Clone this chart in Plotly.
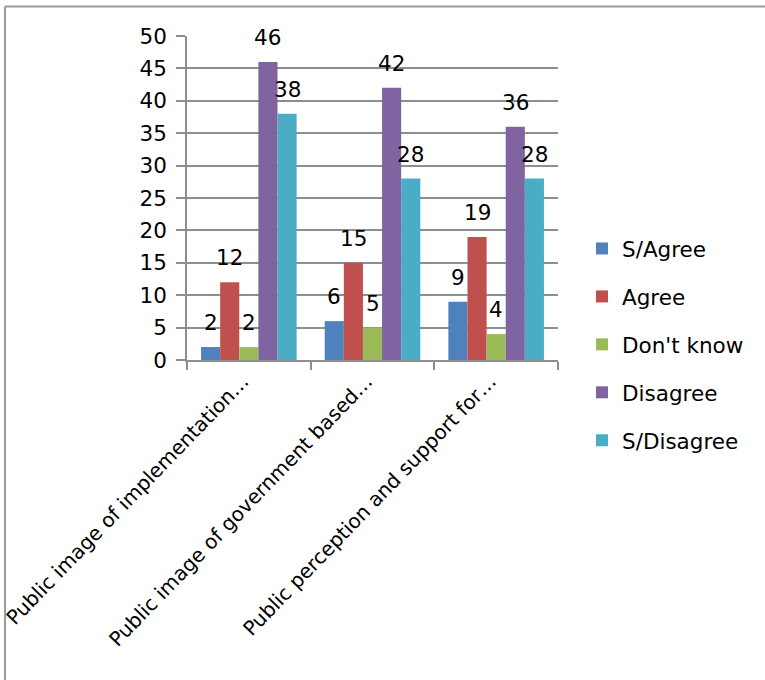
import plotly.graph_objects as go

categories = ["Public image of implementation\u2026",
              "Public image of government based\u2026",
              "Public perception and support for\u2026"]
series_names = ["S/Agree", "Agree", "Don't know", "Disagree", "S/Disagree"]
s_agree = [2, 6, 9]
agree = [12, 15, 19]
dont_know = [2, 5, 4]
disagree = [46, 42, 36]
s_disagree = [38, 28, 28]
y_ticks = list(range(0, 51, 5))

series_values = [s_agree, agree, dont_know, disagree, s_disagree]
colors = ["#4F81BD", "#C0504D", "#9BBB59", "#8064A2", "#4BACC6"]

FONT = "DejaVu Sans"
FS = 21.5
BARGAP = 0.227
GRID = "#8E8E8E"

fig = go.Figure()
for i, (name, vals) in enumerate(zip(series_names, series_values)):
    fig.add_trace(go.Bar(
        x=categories, y=vals, name=name, marker_color=colors[i],
        marker_line_width=0, legendgroup=name,
    ))

# data labels above bars
n = len(series_names)
w = (1 - BARGAP) / n
annotations = []
for i, vals in enumerate(series_values):
    for c, v in enumerate(vals):
        xc = c - (1 - BARGAP) / 2 + w * (i + 0.5)
        annotations.append(dict(
            x=xc, y=v, xref="x", yref="y", text=str(v), showarrow=False,
            yanchor="bottom", xanchor="center", yshift=10,
            font=dict(family=FONT, size=FS, color="#000000"),
        ))

L, R, T, B = 187, 207, 36, 320
pw, ph = 765 - L - R, 680 - T - B

def px(xp):
    return (xp - L) / pw

def py(yp):
    return (680 - B - yp) / ph

shapes = [
    dict(type="line", xref="paper", yref="paper", x0=px(5), x1=px(780),
         y0=py(6.5), y1=py(6.5), line=dict(color="#9A9A9A", width=2)),
    dict(type="line", xref="paper", yref="paper", x0=px(5), x1=px(5),
         y0=py(6.5), y1=py(700), line=dict(color="#9A9A9A", width=2)),
]

fig.update_layout(
    width=765, height=680,
    margin=dict(l=L, r=R, t=T, b=B, autoexpand=False),
    paper_bgcolor="white", plot_bgcolor="white",
    barmode="group", bargap=BARGAP, bargroupgap=0,
    font=dict(family=FONT, size=FS, color="#000000"),
    showlegend=True,
    legend=dict(x=px(582), xanchor="left", y=py(344.5), yanchor="middle",
                font=dict(family=FONT, size=FS, color="#000000"),
                tracegroupgap=17, traceorder="grouped",
                bgcolor="rgba(0,0,0,0)", itemclick=False),
    annotations=annotations,
    shapes=shapes,
)
fig.update_xaxes(
    type="category", tickangle=-46, showgrid=False,
    showline=True, linecolor=GRID, linewidth=1.5,
    ticks="outside", tickson="boundaries", ticklen=8, tickcolor=GRID, tickwidth=1.5,
    tickfont=dict(family=FONT, size=20, color="#000000"),
    ticklabelshift=-6,
)
fig.update_yaxes(
    range=[0, 50], tickvals=y_ticks, showgrid=True, gridcolor=GRID, gridwidth=1.5,
    showline=True, linecolor=GRID, linewidth=1.5,
    ticks="outside", ticklen=9, tickcolor=GRID, tickwidth=1.5,
    tickfont=dict(family=FONT, size=FS, color="#000000"),
    zeroline=False, ticklabelstandoff=5,
)

fig.write_html("out.html")
